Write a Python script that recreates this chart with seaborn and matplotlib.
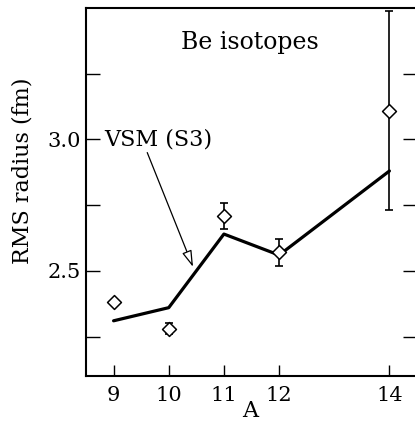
import numpy as np
import pandas as pd
import matplotlib
matplotlib.use("Agg")
import matplotlib.pyplot as plt
import seaborn as sns

# data
A_exp = [9, 10, 11, 12, 14]
r_exp = [2.38, 2.28, 2.71, 2.57, 3.11]
r_err = [0.0, 0.02, 0.05, 0.05, 0.38]
A_vsm = [9, 10, 11, 12, 14]
r_vsm = [2.31, 2.36, 2.64, 2.56, 2.88]
xticks = [9, 10, 11, 12, 14]
yticks = [2.5, 3.0]
ytick_labels = ['2.5', '3.0']

sns.set_style("ticks")
plt.rcParams['font.family'] = ['DejaVu Serif']
plt.rcParams['text.color'] = 'black'
plt.rcParams['axes.labelcolor'] = 'black'
plt.rcParams['xtick.color'] = 'black'
plt.rcParams['ytick.color'] = 'black'

fig = plt.figure(figsize=(4.15, 4.25), dpi=100)
ax = fig.add_axes([86/415, 49/425, 331/415, 368/425])

sns.lineplot(x=A_vsm, y=r_vsm, ax=ax, color='black', lw=2.3)
ax.errorbar(A_exp, r_exp, yerr=r_err, fmt='none', ecolor='black', elinewidth=1.2, capsize=3, capthick=1.2)
sns.scatterplot(x=A_exp, y=r_exp, ax=ax, marker='D', s=50, facecolor='white', edgecolor='black', linewidth=1.1, zorder=5)

ax.set_xlim(8.5, 14.5)
ax.set_ylim(2.1, 3.5)
ax.set_xticks(xticks)
ax.set_xticklabels([str(v) for v in xticks])
ax.set_yticks(yticks)
ax.set_yticklabels(ytick_labels)
ax.set_yticks([2.25, 2.75, 3.25], minor=True)

ax.tick_params(axis='y', which='both', direction='in', length=10, width=1.0, left=True, right=True, labelsize=15, pad=4)
ax.tick_params(axis='x', which='both', direction='in', length=8, width=1.0, top=False, labelsize=15, pad=7)
for s in ax.spines.values():
    s.set_linewidth(1.5)
    s.set_color('black')

ax.set_xlabel('A', fontsize=16)
ax.set_ylabel('RMS radius (fm)', fontsize=16)
ax.yaxis.set_label_coords(-0.16, 0.558)
ax.xaxis.set_label_coords(0.495, -0.066)

ax.text(11.47, 3.37, 'Be isotopes', fontsize=17, ha='center', va='center')
ax.text(9.81, 3.0, 'VSM (S3)', fontsize=16, ha='center', va='center')
ax.annotate('', xy=(10.44, 2.515), xytext=(9.61, 2.95),
            arrowprops=dict(arrowstyle='-|>,head_length=1.0,head_width=0.3', fc='white', ec='black', lw=0.9,
                            shrinkA=0, shrinkB=0))

fig.savefig('out.png', dpi=100)
